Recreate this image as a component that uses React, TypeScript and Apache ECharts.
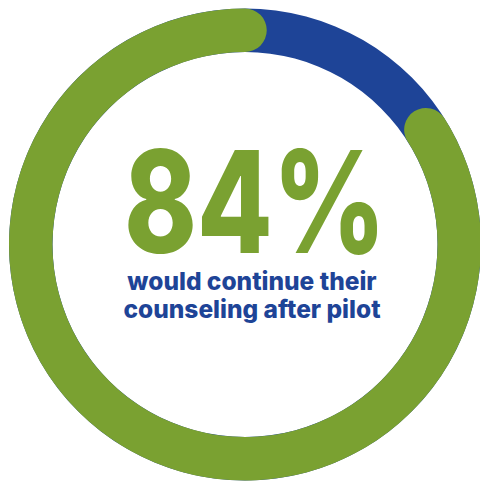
import React, { useEffect, useRef } from "react";
import * as echarts from "echarts";

const categories = ["would continue", "would not"];
const shares = [84, 16];
const headline = "84%";
const subtitleLines = ["would continue their", "counseling after pilot"];

const GREEN = "#7AA131";
const BLUE = "#1E4497";

export default function App() {
  const ref = useRef<HTMLDivElement>(null);
  useEffect(() => {
    if (!ref.current) return;
    const chart = echarts.init(ref.current, undefined, { renderer: "svg" });
    const cx = 245;
    const cy = 244.5;
    const r0 = 192.5;
    const r1 = 236;
    chart.setOption({
      animation: false,
      backgroundColor: "#ffffff",
      polar: { center: [cx, cy], radius: [r0, r1] },
      angleAxis: { type: "value", min: 0, max: 100, startAngle: 90, clockwise: true, show: false },
      radiusAxis: { type: "category", data: ["ring"], show: false },
      series: [
        {
          type: "bar",
          name: categories[1],
          coordinateSystem: "polar",
          stack: "s",
          barWidth: "100%",
          data: [shares[1]],
          itemStyle: { color: "rgba(0,0,0,0)" },
          silent: true,
        },
        {
          type: "bar",
          name: categories[0],
          coordinateSystem: "polar",
          stack: "s",
          barWidth: "100%",
          roundCap: true,
          showBackground: true,
          backgroundStyle: { color: BLUE },
          data: [shares[0]],
          itemStyle: { color: GREEN },
        },
      ],
      graphic: [
        {
          type: "text",
          x: 255,
          y: 201.5,
          scaleX: 0.775,
          style: {
            text: headline,
            fill: GREEN,
            font: "800 142px Inter",
            textAlign: "center",
            textVerticalAlign: "middle",
          },
        },
        {
          type: "text",
          x: 252,
          y: 281,
          style: {
            text: subtitleLines[0],
            fill: BLUE,
            font: "800 24.5px Inter",
            textAlign: "center",
            textVerticalAlign: "middle",
          },
        },
        {
          type: "text",
          x: 252,
          y: 309,
          style: {
            text: subtitleLines[1],
            fill: BLUE,
            font: "800 24.5px Inter",
            textAlign: "center",
            textVerticalAlign: "middle",
          },
        },
      ],
    });
    return () => chart.dispose();
  }, []);
  return (
    <div
      ref={ref}
      style={{ position: "fixed", left: 0, top: 0, width: 480, height: 481 }}
    />
  );
}
